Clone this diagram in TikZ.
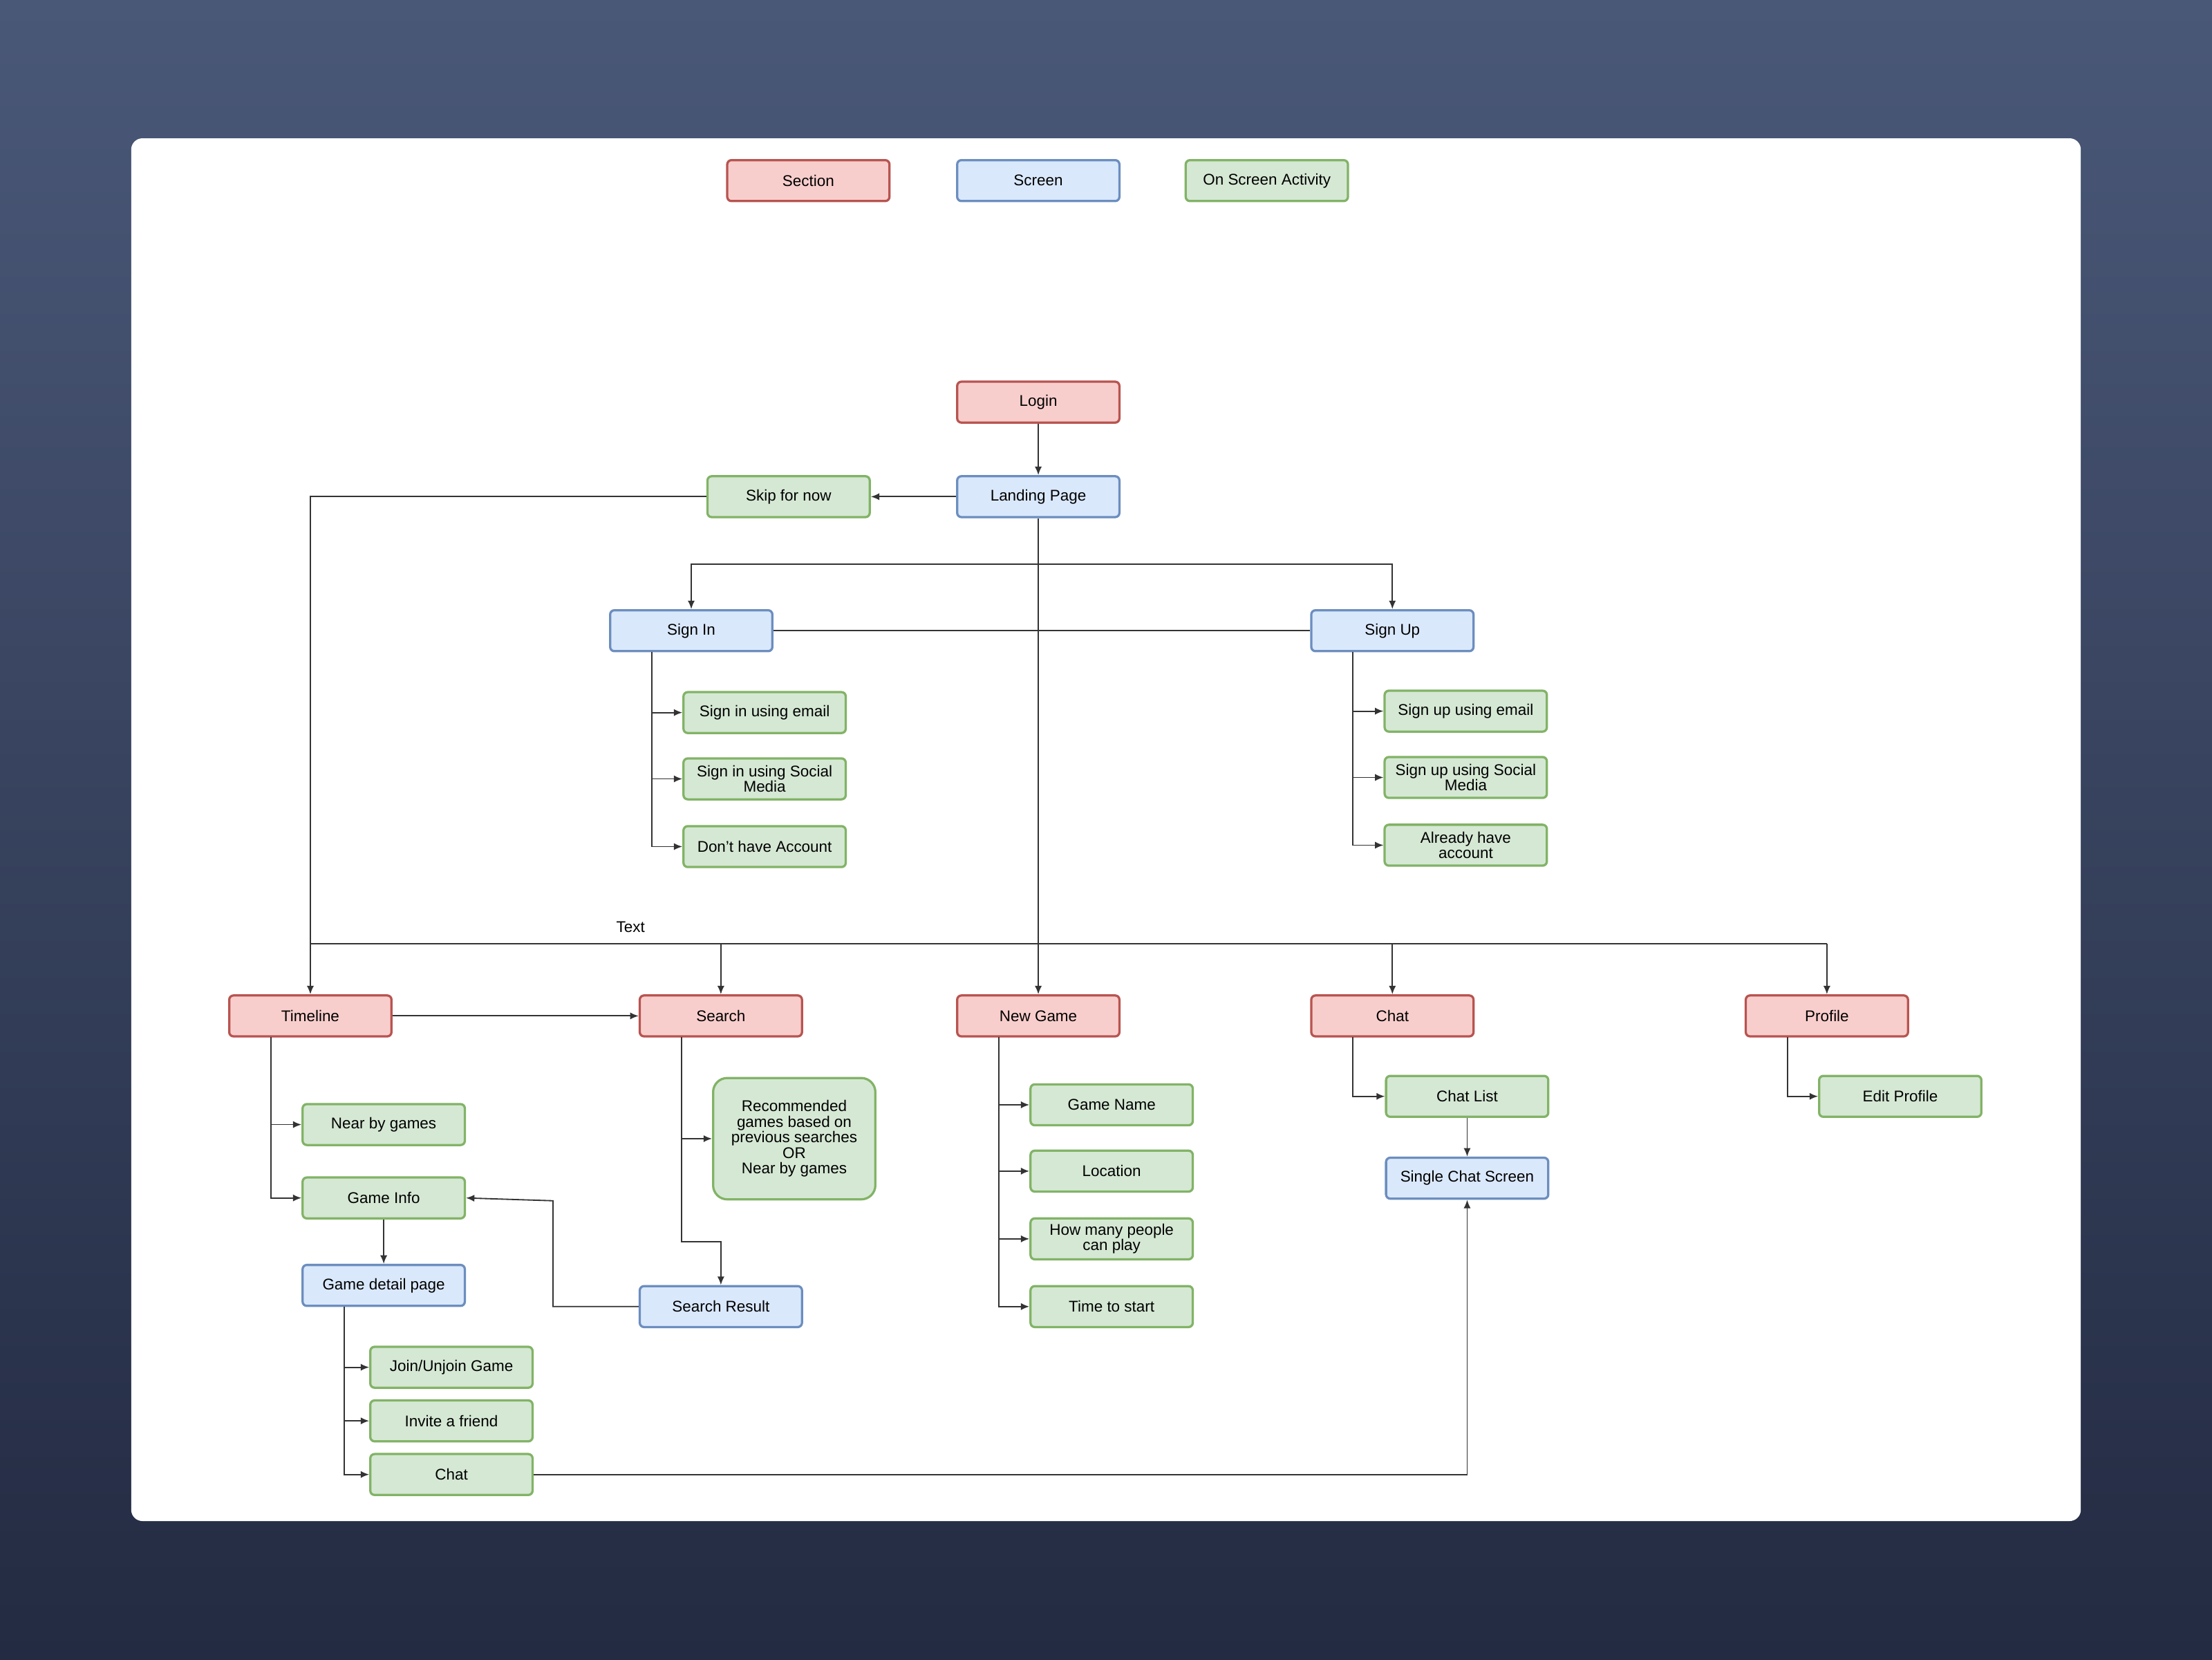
\documentclass[tikz,border=0pt]{standalone}
\usepackage{fontspec}
\setmainfont{Liberation Sans}
\usetikzlibrary{arrows.meta}
\definecolor{secfill}{HTML}{F8CECC}\definecolor{secdraw}{HTML}{B85450}
\definecolor{scrfill}{HTML}{DAE8FC}\definecolor{scrdraw}{HTML}{6C8EBF}
\definecolor{actfill}{HTML}{D5E8D4}\definecolor{actdraw}{HTML}{82B366}
\definecolor{bgtop}{HTML}{4A5878}\definecolor{bgbot}{HTML}{232B42}
\definecolor{edge}{HTML}{333333}
\tikzset{
  box/.style={rectangle, rounded corners=3pt, line width=1.6pt, minimum width=115pt, minimum height=29pt,
    inner sep=1pt, align=center, font=\fontsize{11}{11}\selectfont},
  section/.style={box, draw=secdraw, fill=secfill},
  screen/.style={box, draw=scrdraw, fill=scrfill},
  activity/.style={box, draw=actdraw, fill=actfill},
  link/.style={draw=edge, line width=0.9pt, -{Latex[length=6pt,width=5pt]}},
  line/.style={draw=edge, line width=0.9pt},
}
\begin{document}
\begin{tikzpicture}[x=1pt,y=-1pt]
\useasboundingbox (0,0) rectangle (1568,1176);
\shade[top color=bgtop, bottom color=bgbot] (0,0) rectangle (1568,1176);
\fill[white, rounded corners=8pt] (93,98) rectangle (1475,1078);
% legend
\node[section] (legsec) at (573,128) {Section};
\node[screen] (legscr) at (736,128) {Screen};
\node[activity] (legact) at (898,128) {On Screen Activity};
% top
\node[section] (login) at (736,285) {Login};
\node[screen] (landing) at (736,352) {Landing Page};
\node[activity] (skip) at (559,352) {Skip for now};
\node[screen] (signin) at (490,447) {Sign In};
\node[screen] (signup) at (987,447) {Sign Up};
\node[activity] (inmail) at (542,505) {Sign in using email};
\node[activity] (insocial) at (542,552) {Sign in using Social\\Media};
\node[activity] (noacc) at (542,600) {Don't have Account};
\node[activity] (upmail) at (1039,504) {Sign up using email};
\node[activity] (upsocial) at (1039,551) {Sign up using Social\\Media};
\node[activity] (hasacc) at (1039,599) {Already have\\account};
% sections
\node[section] (timeline) at (220,720) {Timeline};
\node[section] (search) at (511,720) {Search};
\node[section] (newgame) at (736,720) {New Game};
\node[section] (chat) at (987,720) {Chat};
\node[section] (profile) at (1295,720) {Profile};
% timeline
\node[activity] (nearby) at (272,797) {Near by games};
\node[activity] (gameinfo) at (272,849) {Game Info};
\node[screen] (gamedetail) at (272,911) {Game detail page};
\node[activity] (join) at (320,969) {Join/Unjoin Game};
\node[activity] (invite) at (320,1007) {Invite a friend};
\node[activity] (gamechat) at (320,1045) {Chat};
% search
\node[activity, rounded corners=10pt, minimum height=86pt] (recommend) at (563,807)
  {Recommended\\games based on\\previous searches\\OR\\Near by games};
\node[screen] (result) at (511,926) {Search Result};
% new game
\node[activity] (gamename) at (788,783) {Game Name};
\node[activity] (location) at (788,830) {Location};
\node[activity] (people) at (788,878) {How many people\\can play};
\node[activity] (start) at (788,926) {Time to start};
% chat, profile
\node[activity] (chatlist) at (1040,777) {Chat List};
\node[screen] (single) at (1040,835) {Single Chat Screen};
\node[activity] (editprofile) at (1347,777) {Edit Profile};
\node[font=\fontsize{11}{11}\selectfont] (textlbl) at (447,657) {Text};

\coordinate (fork) at (736,400);
\coordinate (bus) at (736,669);
\draw[link] (login) -- (landing);
\draw[link] (landing) -- (skip);
\draw[link] (skip.west) -| (timeline.north);
\draw[link] (landing) -- (newgame);
\draw[link] (fork) -| (signin.north);
\draw[link] (fork) -| (signup.north);
\draw[line] (signin) -- (signup);
\foreach \n in {inmail,insocial,noacc} \draw[link] (462,462) |- (\n.west);
\foreach \n in {upmail,upsocial,hasacc} \draw[link] (959,462) |- (\n.west);
\draw[line] (timeline.north |- bus) -- (profile.north |- bus);
\foreach \n in {search,chat,profile} \draw[link] (\n.north |- bus) -- (\n.north);
\draw[link] (timeline) -- (search);
\foreach \n in {nearby,gameinfo} \draw[link] (192,735) |- (\n.west);
\draw[link] (gameinfo) -- (gamedetail);
\foreach \n in {join,invite,gamechat} \draw[link] (244,926) |- (\n.west);
\draw[link] (483,735) |- (recommend.west);
\draw[link] (483,735) |- (511,880) -- (result.north);
\draw[link] (result.west) -| (392,851) -- (gameinfo.east);
\foreach \n in {gamename,location,people,start} \draw[link] (708,735) |- (\n.west);
\draw[link] (959,735) |- (chatlist.west);
\draw[link] (chatlist) -- (single);
\draw[link] (1267,735) |- (editprofile.west);
\draw[link] (gamechat.east) -| (single.south);
\end{tikzpicture}
\end{document}
